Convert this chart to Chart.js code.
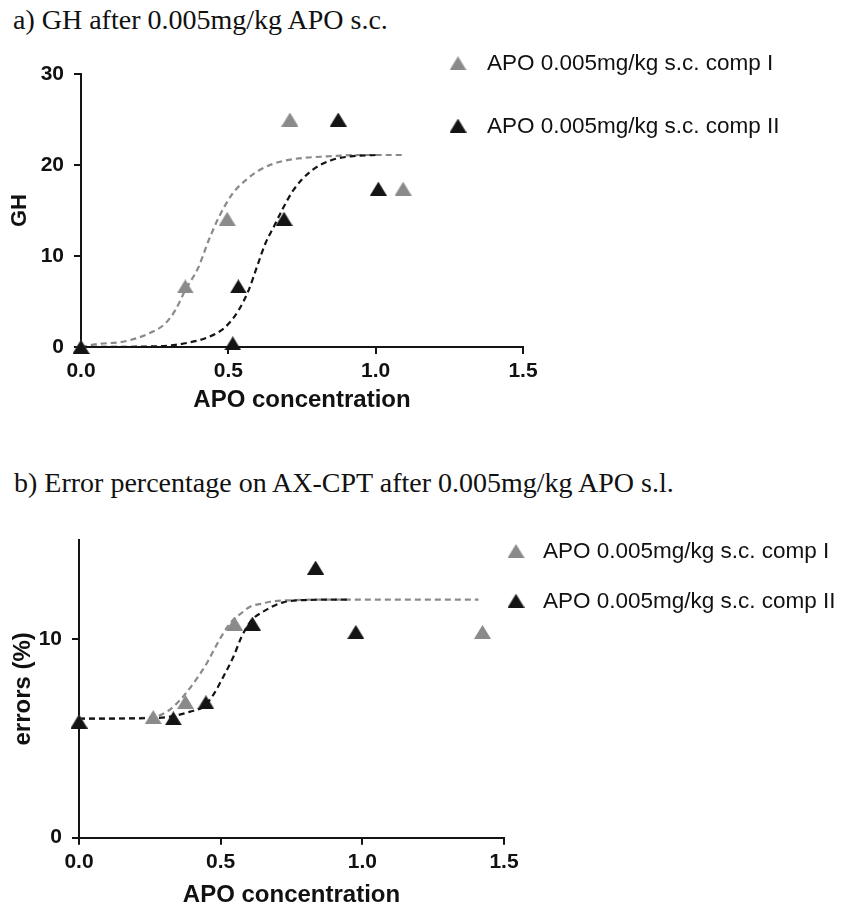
<!DOCTYPE html>
<html>
<head>
<meta charset="utf-8">
<script src="https://cdn.jsdelivr.net/npm/chart.js@4.4.1/dist/chart.umd.min.js"></script>
<style>
  html, body { margin: 0; padding: 0; background: #fff; overflow: hidden; }
  #page { position: relative; width: 845px; height: 906px; overflow: hidden; }
  .title { position: absolute; font-family: 'Liberation Serif', 'Times New Roman', serif; font-size: 28px; line-height: 28px; color: #111; white-space: nowrap; }
  canvas { position: absolute; left: 0; }
</style>
</head>
<body>
<div id="page">
  <div class="title" style="left:13px; top:6px;">a) GH after 0.005mg/kg APO s.c.</div>
  <div class="title" style="left:14px; top:469px;">b) Error percentage on AX-CPT after 0.005mg/kg APO s.l.</div>
  <div style="position:absolute; left:0; top:0; width:845px; height:440px;"><canvas id="chartA"></canvas></div>
  <div style="position:absolute; left:0; top:440px; width:845px; height:480px;"><canvas id="chartB"></canvas></div>
</div>
<script>
// labels
const labelComp1 = 'APO 0.005mg/kg s.c. comp I';
const labelComp2 = 'APO 0.005mg/kg s.c. comp II';

// --- a) GH ---
const xTicksA = [0, 0.5, 1.0, 1.5];
const yTicksA = [0, 10, 20, 30];

const gh1X = [0, 0.354, 0.496, 0.709, 1.093];
const gh1Y = [0, 6.66, 14.1, 25.0, 17.4];
const gh2X = [0, 0.515, 0.534, 0.689, 0.873, 1.009];
const gh2Y = [0, 0.4, 6.66, 14.1, 25.0, 17.4];

// fitted curves
const ghFit1X = [0, 0.048, 0.15, 0.229, 0.286, 0.32, 0.354, 0.399, 0.433, 0.467, 0.513, 0.569, 0.609, 0.649, 0.722, 0.836, 0.949, 1.096];
const ghFit1Y = [0, 0.3, 0.63, 1.47, 2.58, 4.05, 6.25, 8.8, 11.7, 14.2, 16.8, 18.6, 19.5, 20.1, 20.65, 20.95, 21.1, 21.1];
const ghFit2X = [0, 0.263, 0.365, 0.433, 0.49, 0.535, 0.569, 0.597, 0.626, 0.654, 0.688, 0.722, 0.779, 0.847, 0.915, 1.0];
const ghFit2Y = [0, 0.08, 0.48, 1.1, 2.2, 4.05, 6.25, 8.8, 11.4, 13.2, 15.4, 17.3, 19.3, 20.5, 20.95, 21.1];

// --- b) errors ---
const xTicksB = [0, 0.5, 1.0, 1.5];
const yTicksB = [0, 10];

const err1X = [0, 0.262, 0.376, 0.549, 0.835, 1.424];
const err1Y = [5.85, 6.08, 6.84, 10.79, 13.6, 10.37];
const err2X = [0, 0.333, 0.448, 0.612, 0.835, 0.977];
const err2Y = [5.85, 6.02, 6.82, 10.79, 13.6, 10.37];

const errFit1X = [0, 0.25, 0.31, 0.357, 0.404, 0.451, 0.492, 0.533, 0.58, 0.604, 0.651, 0.674, 0.76, 0.9, 1.41];
const errFit1Y = [6.0, 6.05, 6.35, 6.94, 7.78, 8.79, 9.88, 10.8, 11.39, 11.64, 11.81, 11.89, 11.97, 12.0, 12.0];
const errFit2X = [0, 0.239, 0.321, 0.392, 0.439, 0.474, 0.509, 0.545, 0.574, 0.61, 0.645, 0.721, 0.815, 0.945];
const errFit2Y = [6.0, 6.02, 6.1, 6.35, 6.6, 7.2, 8.1, 9.12, 10.13, 10.97, 11.35, 11.86, 11.98, 12.0];

const GREY = '#8a8a8a';
const BLACK = '#141414';

Chart.defaults.font.family = "'Liberation Sans', Arial, sans-serif";
Chart.defaults.color = '#111';

function triangle(color) {
    const c = document.createElement('canvas');
    c.width = 17; c.height = 14;
    const g = c.getContext('2d');
    g.fillStyle = color;
    g.beginPath();
    g.moveTo(8.5, 0);
    g.lineTo(17, 14);
    g.lineTo(0, 14);
    g.closePath();
    g.fill();
    return c;
}
const triGrey = triangle(GREY);
const triBlack = triangle(BLACK);

const zip = (xs, ys) => xs.map((x, i) => ({ x: x, y: ys[i] }));

// legend drawn beside the plot
const sideLegend = {
    id: 'sideLegend',
    afterDraw(chart, args, opts) {
        const ctx = chart.ctx;
        ctx.save();
        ctx.font = "22.5px 'Liberation Sans', Arial, sans-serif";
        ctx.fillStyle = '#111';
        ctx.textBaseline = 'alphabetic';
        chart.data.datasets.filter(d => d.inLegend).forEach((d, i) => {
            const y = opts.y + i * opts.gap;
            const img = d.pointStyle;
            ctx.drawImage(img, opts.x - img.width / 2, y - img.height / 2);
            ctx.fillText(d.label, opts.textX, y + 7);
        });
        ctx.restore();
    }
};

function makeChart(id, cfg) {
    const axisLine = { display: true, color: BLACK, width: 2 };
    const gridTicks = { display: true, drawOnChartArea: false, drawTicks: true, tickLength: 7, tickColor: BLACK, tickWidth: 2, color: BLACK, lineWidth: 2 };
    const pointSet = (label, xs, ys, img, order) => ({
        label: label, data: zip(xs, ys), pointStyle: img, pointRadius: 9,
        showLine: false, order: order, inLegend: true
    });
    const curveSet = (xs, ys, color, order) => ({
        label: '', data: zip(xs, ys), showLine: true, pointRadius: 0,
        borderColor: color, borderWidth: 2.2, borderDash: [6, 4],
        cubicInterpolationMode: 'monotone', order: order
    });

    return new Chart(document.getElementById(id), {
        type: 'scatter',
        data: {
            datasets: [
                pointSet(labelComp1, cfg.p1x, cfg.p1y, triGrey, 1),
                pointSet(labelComp2, cfg.p2x, cfg.p2y, triBlack, 0),
                curveSet(cfg.f1x, cfg.f1y, GREY, 3),
                curveSet(cfg.f2x, cfg.f2y, BLACK, 2)
            ]
        },
        options: {
            responsive: true,
            maintainAspectRatio: false,
            animation: false,
            clip: false,
            layout: { padding: { left: 0, top: cfg.padTop, right: cfg.padRight, bottom: 0 } },
            scales: {
                x: {
                    type: 'linear', min: 0, max: 1.5,
                    border: axisLine, grid: gridTicks,
                    afterBuildTicks: s => { s.ticks = cfg.xTicks.map(v => ({ value: v })); },
                    afterFit: s => { s.height = cfg.xHeight; },
                    ticks: { font: { size: 21, weight: 'bold' }, color: '#111', padding: 5, maxRotation: 0, callback: v => Number(v).toFixed(1) },
                    title: { display: true, text: 'APO concentration', color: '#111', font: { size: 24, weight: 'bold' }, padding: { top: 0, bottom: cfg.xTitlePad } }
                },
                y: {
                    type: 'linear', min: 0, max: cfg.yMax,
                    border: axisLine, grid: gridTicks,
                    afterBuildTicks: s => { s.ticks = cfg.yTicks.map(v => ({ value: v })); },
                    afterFit: s => { s.width = cfg.yWidth; },
                    ticks: { font: { size: 21, weight: 'bold' }, color: '#111', padding: 10 },
                    title: { display: true, text: cfg.yTitle, color: '#111', font: { size: cfg.yTitleSize, weight: 'bold' }, padding: { top: cfg.yTitlePad, bottom: 0 } }
                }
            },
            plugins: {
                legend: { display: false },
                tooltip: { enabled: false },
                sideLegend: cfg.legend
            }
        },
        plugins: [sideLegend]
    });
}

makeChart('chartA', {
    p1x: gh1X, p1y: gh1Y, p2x: gh2X, p2y: gh2Y,
    f1x: ghFit1X, f1y: ghFit1Y, f2x: ghFit2X, f2y: ghFit2Y,
    xTicks: xTicksA, yTicks: yTicksA, yMax: 30, yTitle: 'GH', yTitleSize: 22,
    padTop: 74, padRight: 322, xHeight: 93, yWidth: 81,
    xTitlePad: 25.6, yTitlePad: 6.8,
    legend: { x: 458, y: 63.3, gap: 62.3, textX: 487 }
});

makeChart('chartB', {
    p1x: err1X, p1y: err1Y, p2x: err2X, p2y: err2Y,
    f1x: errFit1X, f1y: errFit1Y, f2x: errFit2X, f2y: errFit2Y,
    xTicks: xTicksB, yTicks: yTicksB, yMax: 15, yTitle: 'errors (%)', yTitleSize: 24,
    padTop: 100, padRight: 341, xHeight: 82.3, yWidth: 79,
    xTitlePad: 10.6, yTitlePad: 8.6,
    legend: { x: 516, y: 111, gap: 49.7, textX: 543 }
});
</script>
</body>
</html>
